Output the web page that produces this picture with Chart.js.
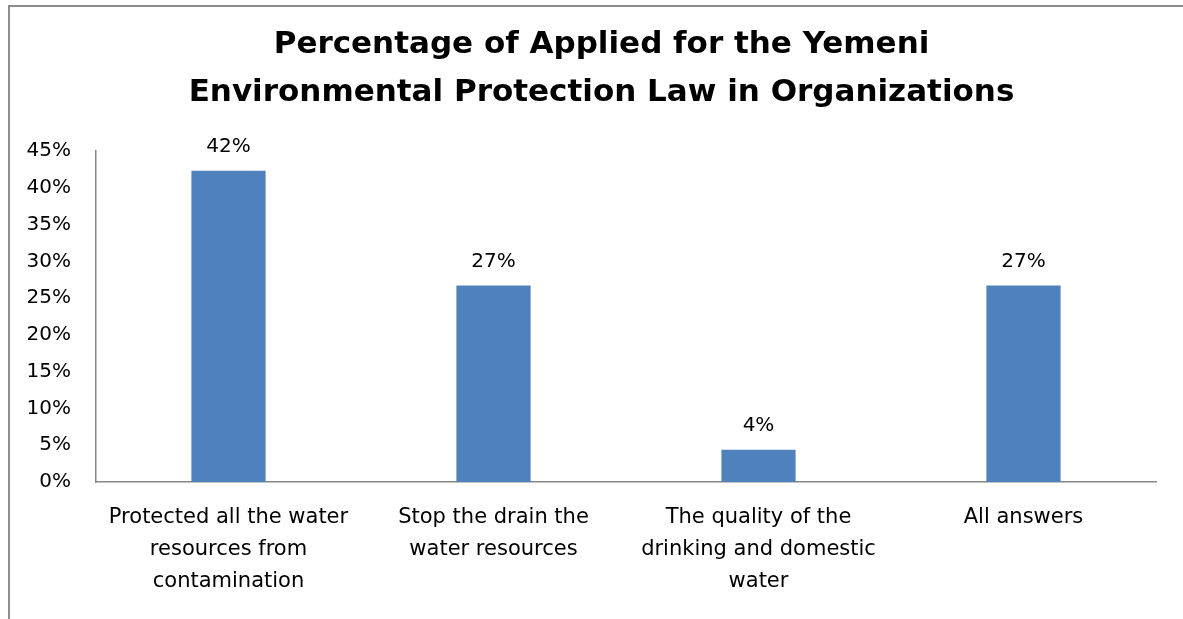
<!DOCTYPE html>
<html>
<head>
<meta charset="utf-8">
<script src="https://cdn.jsdelivr.net/npm/chart.js@4"></script>
<style>
  html, body { margin: 0; padding: 0; background: #fff; overflow: hidden; }
  #frame { position: absolute; left: 8px; top: 5px; width: 1300px; height: 700px;
           border-left: 2px solid #8c8c8c; border-top: 2px solid #8c8c8c; }
  #wrap { position: absolute; left: 0; top: 0; width: 1183px; height: 619px; }
</style>
</head>
<body>
<div id="frame"></div>
<div id="wrap"><canvas id="lawChart"></canvas></div>
<script>
// Percentage of organizations applying each part of the law
const titleLines = ['Percentage of Applied for the Yemeni', 'Environmental Protection Law in Organizations'];
const categories = [
  ['Protected all the water', 'resources from', 'contamination'],
  ['Stop the drain the', 'water resources'],
  ['The quality of the', 'drinking and domestic', 'water'],
  ['All answers']
];
const percentages = [42.3, 26.7, 4.4, 26.7];
const yTicks = [0, 5, 10, 15, 20, 25, 30, 35, 40, 45];

const FONT = "'DejaVu Sans', sans-serif";

// title drawn by hand: Excel centres it a bit right of the canvas middle
const chartTitle = {
  id: 'chartTitle',
  afterDraw(chart) {
    const ctx = chart.ctx;
    ctx.save();
    ctx.font = 'bold 31px ' + FONT;
    ctx.fillStyle = '#000';
    ctx.textAlign = 'center';
    ctx.textBaseline = 'middle';
    const cx = chart.width / 2 + 10;
    titleLines.forEach((line, i) => ctx.fillText(line, cx, 45 + i * 48));
    ctx.restore();
  }
};

// value labels above the bars
const barLabels = {
  id: 'barLabels',
  afterDatasetsDraw(chart) {
    const ctx = chart.ctx;
    ctx.save();
    ctx.font = '20px ' + FONT;
    ctx.fillStyle = '#000';
    ctx.textAlign = 'center';
    ctx.textBaseline = 'alphabetic';
    chart.getDatasetMeta(0).data.forEach((bar, i) => {
      ctx.fillText(Math.round(percentages[i]) + '%', bar.x, bar.y - 19);
    });
    ctx.restore();
  }
};

new Chart(document.getElementById('lawChart'), {
  type: 'bar',
  data: {
    labels: categories,
    datasets: [{
      data: percentages,
      backgroundColor: '#4f81bd',
      barPercentage: 0.28,
      categoryPercentage: 1
    }]
  },
  plugins: [barLabels, chartTitle],
  options: {
    responsive: true,
    maintainAspectRatio: false,
    animation: false,
    layout: { padding: { left: 0, right: 27, top: 151, bottom: 0 } },
    plugins: {
      legend: { display: false },
      tooltip: { enabled: false },
      title: { display: false }
    },
    scales: {
      x: {
        grid: { display: false, drawTicks: false },
        border: { display: true, color: '#868686', width: 1.5 },
        ticks: { color: '#000', font: { family: FONT, size: 21, lineHeight: 1.52 }, padding: 20, maxRotation: 0, autoSkip: false },
        afterFit(s) { s.height = 137; }
      },
      y: {
        min: 0,
        max: 45,
        grid: { display: false, drawTicks: false },
        border: { display: true, color: '#868686', width: 1.5 },
        ticks: {
          stepSize: 5,
          color: '#000',
          font: { family: FONT, size: 20 },
          padding: 25,
          callback: v => yTicks.includes(v) ? v + '%' : ''
        },
        afterFit(s) { s.width = 96; }
      }
    }
  }
});
</script>
</body>
</html>
